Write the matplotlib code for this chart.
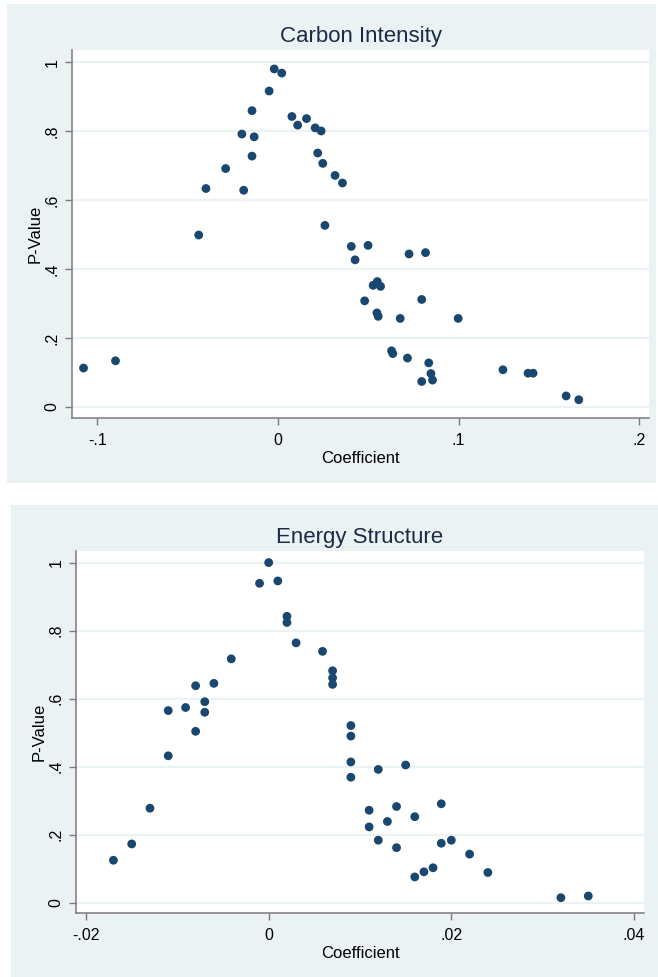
import matplotlib
matplotlib.use("Agg")
import matplotlib.pyplot as plt
from matplotlib.patches import Rectangle

plt.rcParams['font.family'] = ['Liberation Sans', 'DejaVu Sans']

# Carbon Intensity panel
ci_coef = [-0.1077, -0.0900, -0.0439, -0.0399, -0.0290, -0.0200, -0.0190, -0.0144,
           -0.0132, -0.0144, -0.0049, -0.0021, 0.0021, 0.0077, 0.0109, 0.0158,
           0.0206, 0.0239, 0.0220, 0.0248, 0.0316, 0.0357, 0.0260, 0.0406,
           0.0499, 0.0427, 0.0726, 0.0817, 0.0527, 0.0550, 0.0568, 0.0480,
           0.0796, 0.0548, 0.0555, 0.0677, 0.0998, 0.0629, 0.0636, 0.0717,
           0.0835, 0.0847, 0.0856, 0.0796, 0.1246, 0.1385, 0.1413, 0.1596, 0.1666]
ci_pval = [0.113, 0.134, 0.499, 0.634, 0.692, 0.792, 0.629, 0.860,
           0.784, 0.728, 0.917, 0.981, 0.969, 0.843, 0.818, 0.837,
           0.810, 0.801, 0.737, 0.707, 0.672, 0.650, 0.527, 0.466,
           0.469, 0.427, 0.444, 0.448, 0.353, 0.364, 0.350, 0.308,
           0.312, 0.273, 0.263, 0.257, 0.257, 0.163, 0.155, 0.142,
           0.128, 0.097, 0.078, 0.074, 0.108, 0.098, 0.098, 0.032, 0.021]

# Energy Structure panel
es_coef = [-0.0170, -0.0150, -0.0130, -0.0110, -0.0110, -0.0091, -0.0080, -0.0080,
           -0.0070, -0.0070, -0.0060, -0.0041, -0.0010, 0.0000, 0.0010, 0.0020,
           0.0020, 0.0030, 0.0059, 0.0070, 0.0070, 0.0070, 0.0090, 0.0090,
           0.0090, 0.0090, 0.0120, 0.0150, 0.0110, 0.0110, 0.0130, 0.0140,
           0.0160, 0.0189, 0.0120, 0.0140, 0.0189, 0.0200, 0.0220, 0.0240,
           0.0160, 0.0170, 0.0180, 0.0320, 0.0350]
es_pval = [0.125, 0.173, 0.278, 0.432, 0.565, 0.574, 0.638, 0.504,
           0.591, 0.560, 0.645, 0.717, 0.939, 1.000, 0.946, 0.842,
           0.824, 0.764, 0.739, 0.682, 0.661, 0.642, 0.521, 0.490,
           0.414, 0.369, 0.392, 0.405, 0.272, 0.223, 0.239, 0.283,
           0.253, 0.291, 0.184, 0.162, 0.175, 0.184, 0.143, 0.089,
           0.076, 0.091, 0.103, 0.015, 0.020]

y_ticks = [0, 0.2, 0.4, 0.6, 0.8, 1.0]
y_labels = ['0', '.2', '.4', '.6', '.8', '1']
ci_xticks = [-0.1, 0, 0.1, 0.2]
ci_xlabels = ['-.1', '0', '.1', '.2']
es_xticks = [-0.02, 0, 0.02, 0.04]
es_xlabels = ['-.02', '0', '.02', '.04']

BG = '#eaf2f3'
DOT = '#1a476f'
AXC = '#7a7a7a'

W, H = 658, 977
fig = plt.figure(figsize=(W / 100, H / 100), dpi=100)
fig.patch.set_facecolor('white')


def px_rect(x0, y0, x1, y1):
    # pixel box (top-left origin) -> figure fraction
    return [x0 / W, 1 - y1 / H, (x1 - x0) / W, (y1 - y0) / H]


# light frames behind each panel
for (x0, y0, x1, y1) in [(7, 4, 656, 483), (11, 505, 658, 977)]:
    r = px_rect(x0, y0, x1, y1)
    fig.patches.append(Rectangle((r[0], r[1]), r[2], r[3], transform=fig.transFigure,
                                 facecolor=BG, edgecolor='none', zorder=-5))


def panel(box, xs, ys, title, xticks, xlabels, xlim, ylim):
    ax = fig.add_axes(px_rect(*box), zorder=2)
    ax.set_facecolor('white')
    ax.scatter(xs, ys, s=40, color=DOT, edgecolors='none', zorder=3)
    ax.set_xlim(*xlim)
    ax.set_ylim(*ylim)
    ax.set_xticks(xticks)
    ax.set_xticklabels(xlabels)
    ax.set_yticks(y_ticks)
    ax.set_yticklabels(y_labels, rotation=90, va='center')
    for t in y_ticks:
        ax.axhline(t, color=BG, lw=1.6, zorder=1)
    for s in ['top', 'right']:
        ax.spines[s].set_visible(False)
    for s in ['left', 'bottom']:
        ax.spines[s].set_color(AXC)
        ax.spines[s].set_linewidth(1.1)
    ax.tick_params(direction='out', length=5, width=1, color=AXC,
                   labelsize=11.5, labelcolor='black')
    ax.tick_params(axis='x', pad=6)
    ax.tick_params(axis='y', pad=4)
    ax.set_xlabel('Coefficient', fontsize=12, labelpad=2)
    ax.set_ylabel('P-Value', fontsize=12, labelpad=1)
    ax.set_title(title, fontsize=16, color='#1c2a48', pad=6)
    return ax


panel((72, 50, 649, 418), ci_coef, ci_pval, 'Carbon Intensity',
      ci_xticks, ci_xlabels, (-0.1141, 0.2055), (-0.032, 1.036))
panel((76, 551, 644, 913), es_coef, es_pval, 'Energy Structure',
      es_xticks, es_xlabels, (-0.0211, 0.0411), (-0.030, 1.034))

fig.savefig('out.png', dpi=100)
